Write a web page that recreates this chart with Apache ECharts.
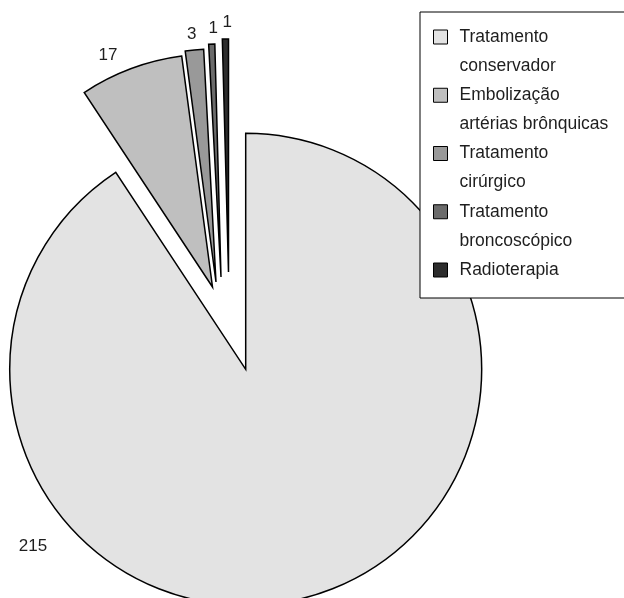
<!DOCTYPE html>
<html>
<head>
<meta charset="utf-8">
<script src="https://cdn.jsdelivr.net/npm/echarts@6/dist/echarts.min.js"></script>
<style>
html,body{margin:0;padding:0;background:#fff;}
#chart{width:624px;height:598px;}
</style>
</head>
<body>
<div id="chart"></div>
<script>
// ---- data ----
const categories = [
  'Tratamento\nconservador',
  'Embolização\nartérias brônquicas',
  'Tratamento\ncirúrgico',
  'Tratamento\nbroncoscópico',
  'Radioterapia'
];
const values = [215, 17, 3, 1, 1];

// ---- styling / layout (not data) ----
const colors = ['#e3e3e3', '#bfbfbf', '#999999', '#6b6b6b', '#2d2d2d'];
const sliceCenters = [[245.7, 369.3], [212.5, 287], [216, 282], [221, 277], [228.5, 272]];
const sliceRadii = [236, 233, 233, 233, 233];
const labelPolar = [[230.3, 276.5], [335.7, 254], [354.4, 249], [358.2, 249], [359.7, 249.5]];
const FONT = '"Liberation Sans", Arial, Helvetica, sans-serif';

const iconTwoLine = 'path://M0,0L14,0L14,14L0,14ZM21,43';
const iconOneLine = 'path://M0,0L14,0L14,14L0,14ZM21,0';

const chart = echarts.init(document.getElementById('chart'), null, {renderer: 'canvas'});

const series = categories.map(function (catName, k) {
  return {
    type: 'pie',
    name: 's' + k,
    center: sliceCenters[k],
    radius: sliceRadii[k],
    startAngle: 90,
    clockwise: true,
    avoidLabelOverlap: false,
    silent: true,
    animation: false,
    emphasis: {disabled: true},
    labelLine: {show: false},
    label: {
      position: 'outside',
      fontFamily: FONT,
      fontSize: 17,
      color: '#1e1e1e'
    },
    labelLayout: function (p) {
      const c = sliceCenters[k];
      const pol = labelPolar[p.dataIndex];
      const a = pol[0] * Math.PI / 180;
      return {
        x: c[0] + pol[1] * Math.sin(a),
        y: c[1] - pol[1] * Math.cos(a),
        align: 'center',
        verticalAlign: 'middle'
      };
    },
    data: categories.map(function (nm, i) {
      return {
        name: nm,
        value: values[i],
        itemStyle: i === k
          ? {color: colors[i], borderColor: '#000', borderWidth: 1.5, borderJoin: 'miter'}
          : {color: 'rgba(0,0,0,0)', borderColor: 'rgba(0,0,0,0)', borderWidth: 0},
        label: {show: i === k, formatter: String(values[i])}
      };
    })
  };
});

chart.setOption({
  backgroundColor: '#fff',
  animation: false,
  legend: {
    orient: 'vertical',
    left: 420,
    top: 12,
    padding: [10.5, 40, 13.5, 13],
    itemWidth: 21,
    itemHeight: 43,
    itemGap: 0.25,
    symbolKeepAspect: true,
    backgroundColor: '#fff',
    borderColor: '#000',
    borderWidth: 1,
    borderRadius: 0,
    selectedMode: false,
    textStyle: {
      fontFamily: FONT,
      fontSize: 17.5,
      lineHeight: 29,
      color: '#1e1e1e'
    },
    itemStyle: {borderColor: '#000', borderWidth: 1},
    data: categories.map(function (nm, i) {
      return {
        name: nm,
        icon: nm.indexOf('\n') >= 0 ? iconTwoLine : iconOneLine,
        itemStyle: {color: colors[i], borderColor: '#000', borderWidth: 1}
      };
    })
  },
  series: series
});
</script>
</body>
</html>
